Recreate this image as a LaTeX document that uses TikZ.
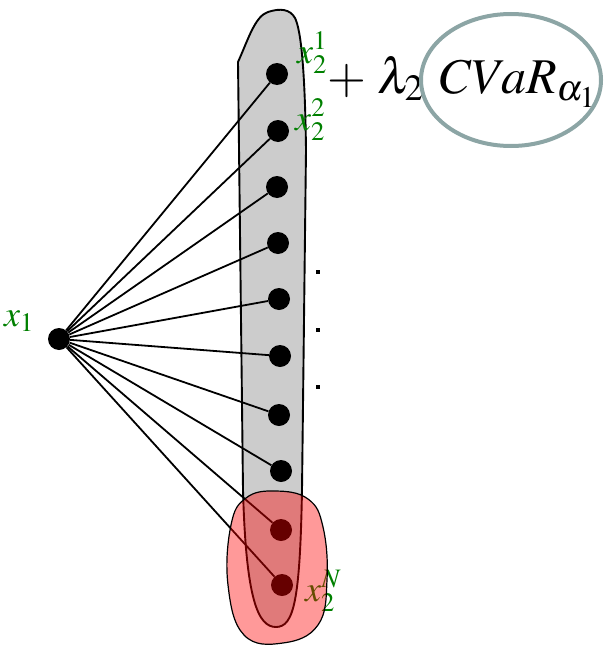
\documentclass[tikz,border=0pt]{standalone}
\usepackage{mathptmx}
\begin{document}
\begin{tikzpicture}[x=1pt,y=-1pt,
  dot/.style={circle,fill=black,inner sep=0pt,minimum size=22pt},
  link/.style={draw=black,line width=1.8pt},
  lbl/.style={text=green!50!black,inner sep=0pt,font=\fontsize{36}{36}\selectfont},
  sq/.style={fill=black,inner sep=0pt,minimum size=4.5pt},
  outline/.style={draw=black,line width=1.9pt}]
\useasboundingbox (0,0) rectangle (606,645);
% gray group
\path[fill=black!20,outline] (238,62) .. controls (248,40) and (255,16) .. (268,12)
  .. controls (280,8) and (290,9) .. (295,18)
  .. controls (301,30) and (305,70) .. (306,150)
  -- (302,490) .. controls (300,600) and (294,627) .. (276,627)
  .. controls (258,627) and (246,600) .. (243,490) -- cycle;
% nodes
\node[dot] (x1) at (59,339) {};
\node[dot] (n1) at (277,74) {};
\node[dot] (n2) at (278,131) {};
\node[dot] (n3) at (277,187) {};
\node[dot] (n4) at (278,243) {};
\node[dot] (n5) at (279,299) {};
\node[dot] (n6) at (280,356) {};
\node[dot] (n7) at (279,415) {};
\node[dot] (n8) at (281,471) {};
\node[dot] (n9) at (281,530) {};
\node[dot] (n10) at (282,585) {};
\foreach \i in {1,...,10} \draw[link] (x1) -- (n\i);
% dots
\node[sq] (d1) at (318,272) {};
\node[sq] (d2) at (318,330) {};
\node[sq] (d3) at (318,387) {};
% labels
\node[lbl,anchor=base west] (lx1) at (4,326) {$x_1$};
\node[lbl,anchor=base west] (lx21) at (297,63) {$x_2^1$};
\node[lbl,anchor=base west] (lx22) at (295,130) {$x_2^2$};
\node[lbl,anchor=base west] (lx2N) at (305,601) {$x_2^N$};
% red overlay
\path[fill=red,fill opacity=0.4,draw=black,line width=1.2pt]
  plot[smooth cycle,tension=0.7] coordinates {(231,525) (246,498) (275,491) (308,499) (323,527) (327,580) (318,625) (283,643) (244,635) (228,585)};
% formula
\node[anchor=base west,inner sep=0pt,font=\fontsize{50}{50}\selectfont] (f) at (327,93) {$+\;\lambda_2\;\,CVaR_{\alpha_1}$};
\draw[draw={rgb,255:red,140;green,165;blue,165},line width=4pt] (511,80) ellipse [x radius=90,y radius=66];
\end{tikzpicture}
\end{document}
